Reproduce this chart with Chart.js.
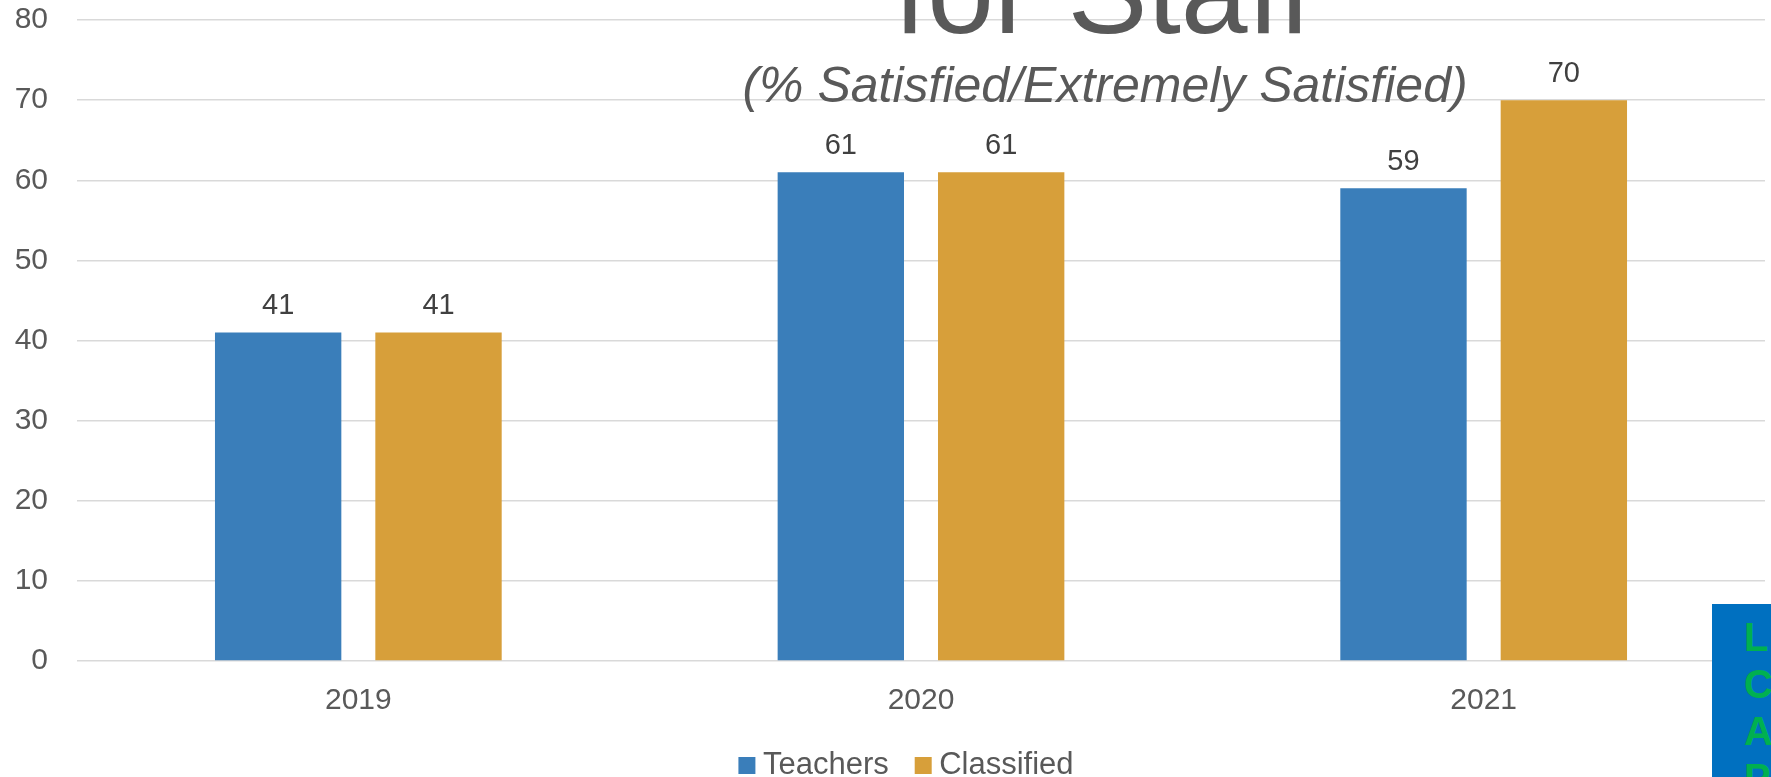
<!DOCTYPE html>
<html>
<head>
<meta charset="utf-8">
<script src="https://cdn.jsdelivr.net/npm/chart.js@4.4.1/dist/chart.umd.min.js"></script>
<style>
  html, body { margin: 0; padding: 0; background: #fff; overflow: hidden; }
  #wrap { position: relative; width: 1771px; height: 777px; overflow: hidden; }
  #graph { position: absolute; left: 0; top: 0; }
  #lcap {
    position: absolute; left: 1712px; top: 604px; width: 80px; height: 200px;
    background: #0070c0; color: #00b050;
    font: bold 40px 'Liberation Sans', Arial, sans-serif; line-height: 47px;
    padding: 10px 0 0 32px; box-sizing: border-box;
  }
</style>
</head>
<body>
<div id="wrap">
  <canvas id="graph" width="1771" height="791"></canvas>
  <div id="lcap">L<br>C<br>A<br>P</div>
</div>
<script>
const years = ['2019', '2020', '2021']
const teachers = [41, 61, 59]
const classified = [41, 61, 70]
const yMax = 80
const yStep = 10

const FONT = "'Liberation Sans', Arial, sans-serif"
const GREY = '#595959'

// value labels above each bar
const valueLabels = {
  id: 'valueLabels',
  afterDatasetsDraw (chart) {
    const { ctx } = chart
    ctx.save()
    ctx.font = '29px ' + FONT
    ctx.fillStyle = '#404040'
    ctx.textAlign = 'center'
    ctx.textBaseline = 'alphabetic'
    chart.data.datasets.forEach((ds, i) => {
      chart.getDatasetMeta(i).data.forEach((bar, j) => {
        ctx.fillText(String(ds.data[j]), bar.x, bar.y - 18)
      })
    })
    ctx.restore()
  }
}

// heading, only its lower part shows in the frame
const heading = {
  id: 'heading',
  afterDraw (chart) {
    const { ctx } = chart
    ctx.save()
    ctx.fillStyle = GREY
    ctx.textAlign = 'center'
    ctx.textBaseline = 'alphabetic'
    ctx.font = '120px ' + FONT
    ctx.fillText('for Staff', 1103, 33)
    ctx.font = 'italic 50px ' + FONT
    ctx.fillText('(% Satisfied/Extremely Satisfied)', 1105, 102)
    ctx.restore()
  }
}

// nudge the legend a little left, the original sits off centre
const legendShift = {
  id: 'legendShift',
  afterLayout (chart) {
    if (!chart.legend) return
    chart.legend.left -= 11
    chart.legend.right -= 11
  }
}

const chart = new Chart('graph', {
  type: 'bar',
  data: {
    labels: years,
    datasets: [
      { label: 'Teachers', data: teachers, backgroundColor: '#3a7eba' },
      { label: 'Classified', data: classified, backgroundColor: '#d79f3a' }
    ]
  },
  options: {
    responsive: false,
    animation: false,
    devicePixelRatio: 1,
    categoryPercentage: 0.57,
    barPercentage: 0.788,
    layout: { padding: { top: 20, left: 0, right: 6, bottom: 0 } },
    scales: {
      x: {
        grid: { display: false, drawTicks: false },
        border: { display: false },
        ticks: { font: { size: 30, family: FONT }, color: GREY, padding: 22 },
        afterFit: (scale) => {
          scale.height = 55
          scale.paddingLeft = 0
          scale.paddingRight = 0
        }
      },
      y: {
        min: 0,
        max: yMax,
        grid: { color: '#d9d9d9', lineWidth: 1.5, drawTicks: false },
        border: { display: false },
        ticks: { stepSize: yStep, font: { size: 30, family: FONT }, color: GREY, padding: 29 },
        afterFit: (scale) => {
          scale.width = 77
          scale.paddingTop = 0
          scale.paddingBottom = 0
        }
      }
    },
    plugins: {
      tooltip: { enabled: false },
      legend: {
        position: 'bottom',
        fullSize: false,
        labels: {
          font: { size: 31, family: FONT },
          color: GREY,
          usePointStyle: true,
          pointStyle: 'rect',
          boxWidth: 1,
          boxHeight: 17,
          padding: 34
        }
      }
    }
  },
  plugins: [valueLabels, heading, legendShift]
})
</script>
</body>
</html>
